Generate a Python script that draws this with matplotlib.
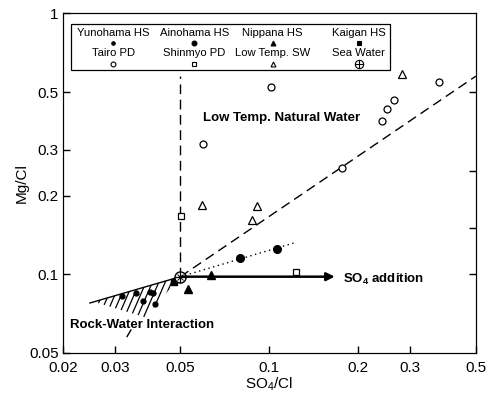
import numpy as np
import matplotlib
matplotlib.use("Agg")
import matplotlib.pyplot as plt
from matplotlib.patches import Polygon, Rectangle
from matplotlib.ticker import NullLocator

plt.rcParams['font.family'] = ['Liberation Sans', 'DejaVu Sans']
plt.rcParams['mathtext.default'] = 'regular'

# data (SO4/Cl, Mg/Cl)
tairo_x = [0.101, 0.375, 0.264, 0.250, 0.240, 0.176, 0.0595]
tairo_y = [0.523, 0.546, 0.466, 0.430, 0.387, 0.256, 0.316]
lowsw_x = [0.281, 0.0591, 0.0907, 0.0872]
lowsw_y = [0.586, 0.1845, 0.183, 0.1617]
shinmyo_x = [0.0502, 0.1229]
shinmyo_y = [0.1675, 0.102]
ainohama_x = [0.0794, 0.106]
ainohama_y = [0.1156, 0.125]
yunohama_x = [0.0317, 0.0353, 0.0373, 0.0394, 0.0403, 0.0410]
yunohama_y = [0.0827, 0.0849, 0.0791, 0.0857, 0.0849, 0.0771]
nippana_x = [0.0634, 0.053]
nippana_y = [0.0995, 0.088]
kaigan_x = [0.0475]
kaigan_y = [0.0936]
sea_x = 0.050
sea_y = 0.098

# guide lines
dash_end = (0.50, 0.575)
dot_end = (0.124, 0.133)
vert_top = 0.575
arrow_end = 0.1665
rock_upper = (0.0247, 0.0777)
rock_region = [(0.0255, 0.0785), (sea_x, sea_y), (0.038, 0.0685)]

xticks = [0.02, 0.03, 0.05, 0.1, 0.2, 0.3, 0.5]
xticklabels = ['0.02', '0.03', '0.05', '0.1', '0.2', '0.3', '0.5']
yticks = [0.05, 0.1, 0.2, 0.3, 0.5, 1]
yticklabels = ['0.05', '0.1', '0.2', '0.3', '0.5', '1']
right_ticks = [0.1, 0.15, 0.25, 0.5]

fig = plt.figure(figsize=(4.91, 3.97), dpi=100)
ax = fig.add_axes([0.128, 0.111, 0.841, 0.855])
ax.set_xscale('log')
ax.set_yscale('log')
ax.set_xlim(0.02, 0.5)
ax.set_ylim(0.05, 1)

# lines
ax.plot([sea_x, dash_end[0]], [sea_y, dash_end[1]], color='k', lw=1, dashes=(7, 4))
ax.plot([sea_x, sea_x], [sea_y, vert_top], color='k', lw=1, dashes=(7, 4))
ax.plot([sea_x, dot_end[0]], [sea_y, dot_end[1]], color='k', lw=1, dashes=(1, 2.5))
ax.plot([rock_upper[0], sea_x], [rock_upper[1], sea_y], color='k', lw=1)
ax.annotate('', xy=(arrow_end, sea_y), xytext=(sea_x, sea_y),
            arrowprops=dict(arrowstyle='-|>', lw=1.8, color='k',
                            mutation_scale=12, shrinkA=0, shrinkB=0))

# hatched rock-water region
patch = Polygon(rock_region, closed=True, transform=ax.transData,
                facecolor='none', edgecolor='none')
ax.add_patch(patch)
for x0 in np.arange(-0.4, 0.4, 0.0155):
    ln, = ax.plot([x0, x0 + 0.357], [0, 1], transform=ax.transAxes, color='k', lw=0.9)
    ln.set_clip_path(patch)
ax.plot([0.0330, 0.0340], [0.0578, 0.0612], color='k', lw=1)

# points
ax.plot(tairo_x, tairo_y, 'o', mfc='white', mec='k', ms=5, mew=0.9, ls='none')
ax.plot(lowsw_x, lowsw_y, '^', mfc='white', mec='k', ms=5.5, mew=0.9, ls='none')
ax.plot(shinmyo_x, shinmyo_y, 's', mfc='white', mec='k', ms=4.5, mew=0.9, ls='none')
ax.plot(ainohama_x, ainohama_y, 'o', color='k', ms=5.5, ls='none')
ax.plot(yunohama_x, yunohama_y, 'o', color='k', ms=3.5, ls='none')
ax.plot(nippana_x, nippana_y, '^', color='k', ms=5.5, ls='none')
ax.plot(kaigan_x, kaigan_y, 's', color='k', ms=4, ls='none')
ax.plot([sea_x], [sea_y], 'o', mfc='white', mec='k', ms=8, mew=1)
ax.plot([sea_x], [sea_y], '+', color='k', ms=8, mew=0.9)
ax.plot([sea_x], [sea_y], 'x', color='k', ms=5, mew=0.7)

# texts
ax.text(0.0595, 0.397, 'Low Temp. Natural Water', fontsize=9.5, fontweight='bold', va='center')
ax.text(0.0211, 0.064, 'Rock-Water Interaction', fontsize=9.5, fontweight='bold', va='center')
ax.text(0.177, 0.096, 'SO$_4$ addition', fontsize=9.5, fontweight='bold', va='center')

# legend box drawn by hand (label above marker)
ax.add_patch(Rectangle((0.019, 0.834), 0.773, 0.135, transform=ax.transAxes,
                       fill=False, edgecolor='k', lw=0.9))
leg_names = [['Yunohama HS', 'Ainohama HS', 'Nippana HS', 'Kaigan HS'],
             ['Tairo PD', 'Shinmyo PD', 'Low Temp. SW', 'Sea Water']]
leg_cols = [0.122, 0.318, 0.508, 0.716]
leg_style = [[dict(marker='o', mfc='k', mec='k', ms=2.5), dict(marker='o', mfc='k', mec='k', ms=3.5),
              dict(marker='^', mfc='k', mec='k', ms=3.5), dict(marker='s', mfc='k', mec='k', ms=3)],
             [dict(marker='o', mfc='white', mec='k', ms=3.5), dict(marker='s', mfc='white', mec='k', ms=3),
              dict(marker='^', mfc='white', mec='k', ms=3.5), dict(marker='o', mfc='white', mec='k', ms=6)]]
text_rows = [0.943, 0.884]
mark_rows = [0.914, 0.852]
for r in range(2):
    for c in range(4):
        ax.text(leg_cols[c], text_rows[r], leg_names[r][c], transform=ax.transAxes,
                fontsize=8.1, ha='center', va='center')
        ax.plot([leg_cols[c]], [mark_rows[r]], transform=ax.transAxes, ls='none',
                mew=0.8, **leg_style[r][c])
ax.plot([leg_cols[3]], [mark_rows[1]], '+', color='k', ms=6, mew=0.8, transform=ax.transAxes)

# axes and ticks
ax.set_xticks(xticks)
ax.set_xticklabels(xticklabels)
ax.set_yticks(yticks)
ax.set_yticklabels(yticklabels)
ax.xaxis.set_minor_locator(NullLocator())
ax.yaxis.set_minor_locator(NullLocator())
ax.tick_params(direction='in', length=5, width=1, labelsize=11, pad=3)
ax.tick_params(axis='x', pad=6)
ax.set_xlabel('SO$_4$/Cl', fontsize=11, labelpad=0)
ax.set_ylabel('Mg/Cl', fontsize=11, labelpad=0)

ax2 = ax.twinx()
ax2.set_yscale('log')
ax2.set_ylim(0.05, 1)
ax2.set_yticks(right_ticks)
ax2.set_yticklabels([])
ax2.yaxis.set_minor_locator(NullLocator())
ax2.tick_params(direction='in', length=5, width=1)

fig.savefig('out.png', dpi=100)
